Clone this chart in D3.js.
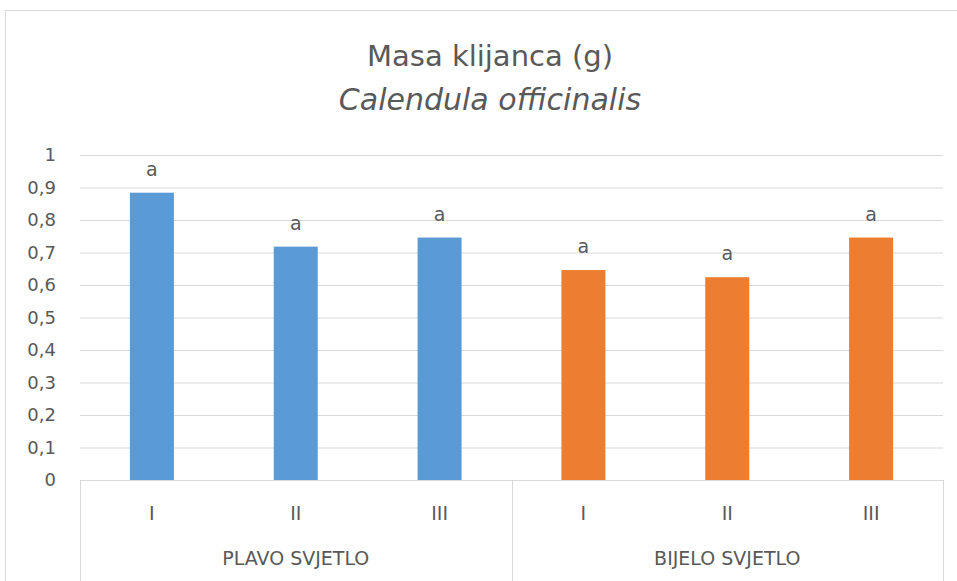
<!DOCTYPE html>
<html lang="hr">
<head>
    <meta charset="UTF-8">
    <title>Masa klijanca (g)</title>
    <script src="https://d3js.org/d3.v7.min.js"></script>
    <style>
        * { margin: 0; padding: 0; box-sizing: border-box; }
        body { background: #fff; font-family: "DejaVu Sans", sans-serif; }
        svg text { fill: #595959; }
    </style>
</head>
<body>
    <div id="chart"></div>

    <script>
        // podaci
        const groups = ["PLAVO SVJETLO", "BIJELO SVJETLO"];
        const treatments = ["I", "II", "III"];
        const plavo = [0.884, 0.718, 0.746];
        const bijelo = [0.646, 0.624, 0.746];
        const letters = ["a", "a", "a", "a", "a", "a"];
        const yTicks = [0, 0.1, 0.2, 0.3, 0.4, 0.5, 0.6, 0.7, 0.8, 0.9, 1];

        const width = 957, height = 581;
        const margin = { top: 155, right: 14, bottom: 101, left: 80 };
        const colors = ["#5b9bd5", "#ed7d31"];
        const gridColor = "#d9d9d9";
        const font = "'DejaVu Sans', sans-serif";

        // jedan red po stupcu
        const rows = [];
        [plavo, bijelo].forEach((vals, gi) => {
            vals.forEach((v, ti) => {
                rows.push({ group: groups[gi], gi: gi, t: treatments[ti], key: gi + "-" + ti, value: v });
            });
        });
        rows.forEach((r, i) => r.letter = letters[i]);

        const svg = d3.select("#chart").append("svg")
            .attr("width", width)
            .attr("height", height)
            .style("font-family", font);

        // okvir grafikona
        svg.append("rect")
            .attr("x", 5.5).attr("y", 10.5)
            .attr("width", width + 20).attr("height", height + 20)
            .attr("fill", "#fff")
            .attr("stroke", gridColor);

        const x = d3.scaleBand()
            .domain(rows.map(d => d.key))
            .range([margin.left, width - margin.right])
            .paddingInner(0.694)
            .paddingOuter(0.347);

        const y = d3.scaleLinear()
            .domain([0, 1])
            .range([height - margin.bottom, margin.top]);

        const fmt = d3.formatLocale({ decimal: ",", thousands: ".", grouping: [3], currency: ["", ""] }).format(".1~f");

        // mreža + oznake y osi
        const yAxis = d3.axisLeft(y)
            .tickValues(yTicks)
            .tickFormat(fmt)
            .tickSize(-(width - margin.right - margin.left))
            .tickPadding(24);

        const gy = svg.append("g")
            .attr("transform", `translate(${margin.left},0)`)
            .call(yAxis);
        gy.select(".domain").remove();
        gy.selectAll(".tick line").attr("stroke", gridColor);
        gy.selectAll(".tick text")
            .attr("fill", "#595959")
            .style("font-family", font)
            .style("font-size", "18px");

        // stupci
        svg.append("g").selectAll("rect")
            .data(rows)
            .join("rect")
            .attr("x", d => x(d.key))
            .attr("y", d => y(d.value))
            .attr("width", x.bandwidth())
            .attr("height", d => y(0) - y(d.value))
            .attr("fill", d => colors[d.gi]);

        // slova iznad stupaca
        svg.append("g").selectAll("text")
            .data(rows)
            .join("text")
            .attr("x", d => x(d.key) + x.bandwidth() / 2)
            .attr("y", d => y(d.value) - 17)
            .attr("text-anchor", "middle")
            .style("font-size", "19px")
            .text(d => d.letter);

        // x os: linija, kategorije, grupe, razdjelnici
        const x0 = margin.left, x1 = width - margin.right, yb = y(0);
        const groupEdges = groups.map((g, i) => x0 + (x1 - x0) / groups.length * i).concat([x1]);

        svg.append("line")
            .attr("x1", x0).attr("x2", x1)
            .attr("y1", yb + 0.5).attr("y2", yb + 0.5)
            .attr("stroke", gridColor);

        svg.append("g").selectAll("line")
            .data(groupEdges)
            .join("line")
            .attr("x1", d => Math.round(d) + 0.5).attr("x2", d => Math.round(d) + 0.5)
            .attr("y1", yb).attr("y2", height)
            .attr("stroke", gridColor);

        svg.append("g").selectAll("text")
            .data(rows)
            .join("text")
            .attr("x", d => x(d.key) + x.bandwidth() / 2)
            .attr("y", yb + 40)
            .attr("text-anchor", "middle")
            .style("font-size", "19px")
            .text(d => d.t);

        svg.append("g").selectAll("text")
            .data(groups)
            .join("text")
            .attr("x", (d, i) => (groupEdges[i] + groupEdges[i + 1]) / 2)
            .attr("y", yb + 85)
            .attr("text-anchor", "middle")
            .style("font-size", "19px")
            .text(d => d);

        // naslov
        svg.append("text")
            .attr("x", 490).attr("y", 66)
            .attr("text-anchor", "middle")
            .style("font-size", "29px")
            .text("Masa klijanca (g)");

        svg.append("text")
            .attr("x", 490).attr("y", 110)
            .attr("text-anchor", "middle")
            .style("font-size", "30px")
            .style("font-style", "italic")
            .text("Calendula officinalis");
    </script>
</body>
</html>
